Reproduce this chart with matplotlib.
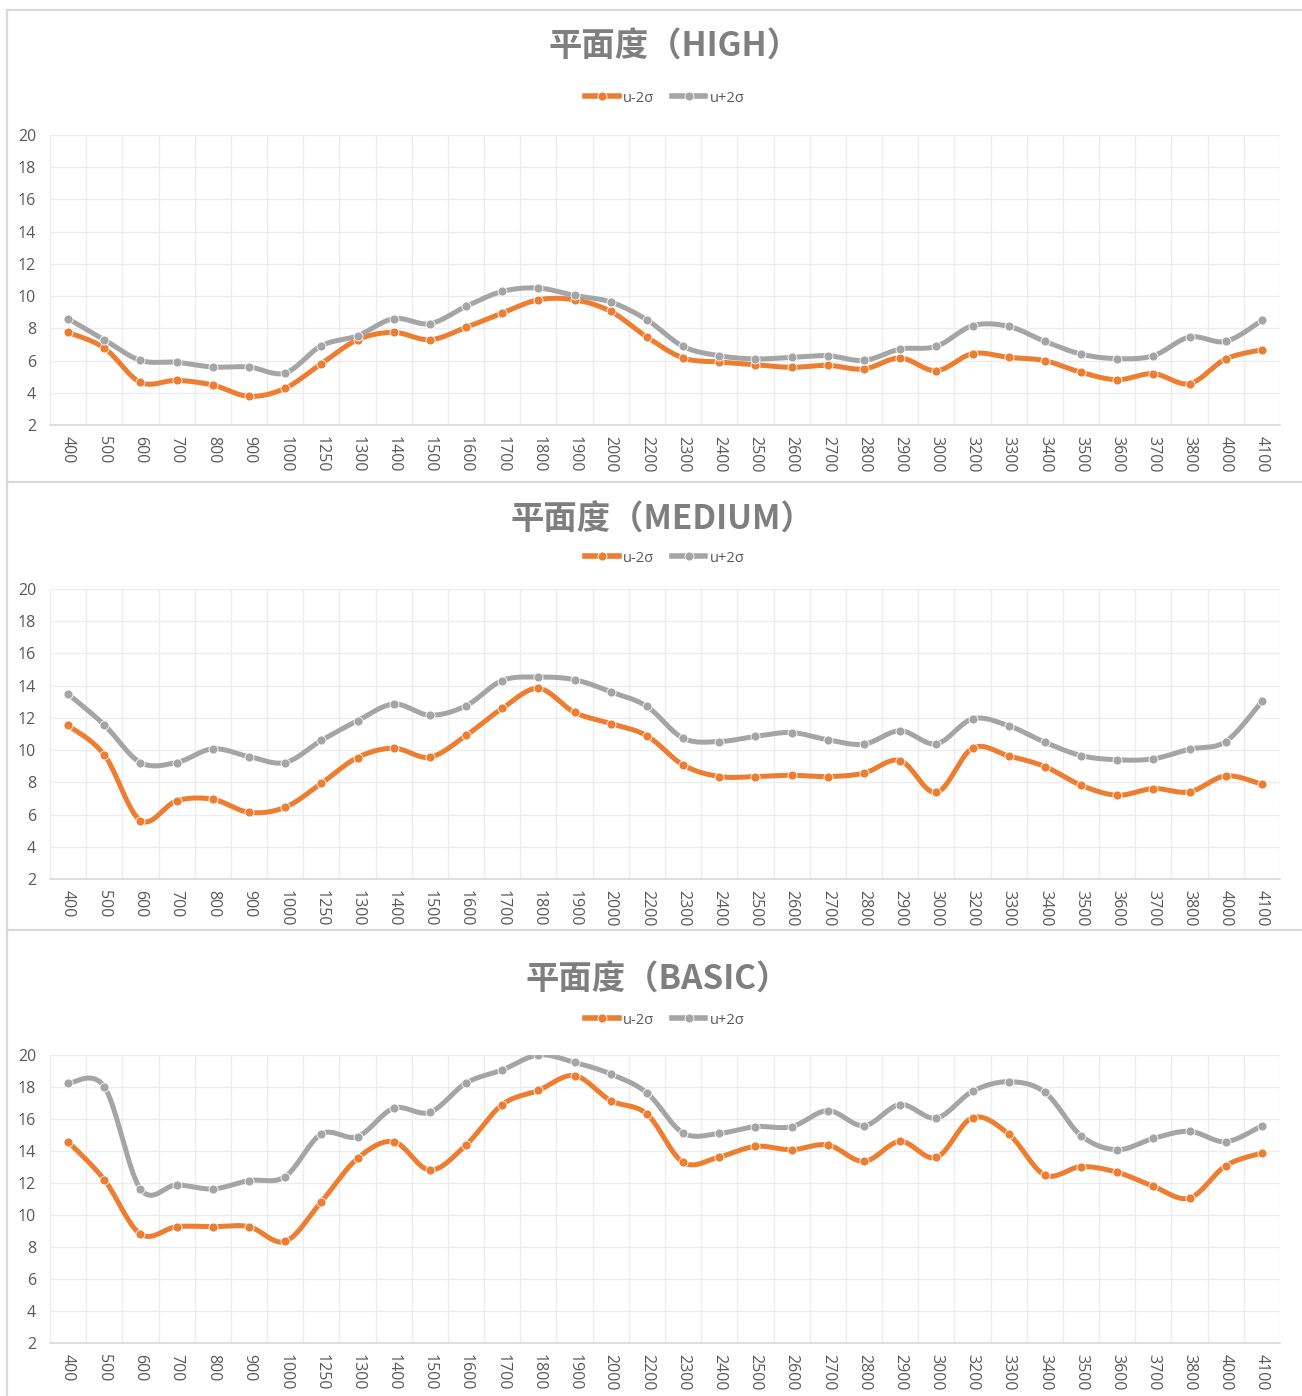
import numpy as np
import matplotlib
matplotlib.use("Agg")
import matplotlib.pyplot as plt
from matplotlib.lines import Line2D

plt.rcParams['font.family'] = ['Open Sans', 'Noto Sans CJK SC', 'DejaVu Sans']

# --- data -------------------------------------------------------------
sizes = ["400", "500", "600", "700", "800", "900", "1000", "1250", "1300", "1400",
         "1500", "1600", "1700", "1800", "1900", "2000", "2200", "2300", "2400", "2500",
         "2600", "2700", "2800", "2900", "3000", "3200", "3300", "3400", "3500", "3600",
         "3700", "3800", "4000", "4100"]

high_low = [7.75, 6.78, 4.65, 4.77, 4.48, 3.78, 4.28, 5.81, 7.29, 7.75,
            7.29, 8.06, 8.95, 9.77, 9.77, 9.05, 7.46, 6.16, 5.91, 5.74,
            5.58, 5.70, 5.48, 6.16, 5.37, 6.43, 6.20, 5.99, 5.27, 4.81,
            5.19, 4.57, 6.10, 6.67]
high_up = [8.60, 7.29, 6.01, 5.89, 5.60, 5.60, 5.23, 6.92, 7.54, 8.60,
           8.29, 9.36, 10.29, 10.50, 10.04, 9.63, 8.53, 6.88, 6.30, 6.10,
           6.20, 6.30, 6.01, 6.71, 6.88, 8.16, 8.12, 7.19, 6.40, 6.12,
           6.30, 7.46, 7.19, 8.49]

medium_low = [11.53, 9.71, 5.63, 6.85, 6.95, 6.14, 6.45, 7.94, 9.54, 10.12,
              9.56, 10.91, 12.59, 13.83, 12.34, 11.65, 10.89, 9.08, 8.36, 8.36,
              8.44, 8.36, 8.57, 9.35, 7.37, 10.12, 9.64, 8.98, 7.82, 7.20,
              7.61, 7.41, 8.40, 7.88]
medium_up = [13.48, 11.57, 9.23, 9.23, 10.08, 9.60, 9.23, 10.60, 11.82, 12.86,
             12.17, 12.75, 14.32, 14.53, 14.37, 13.62, 12.71, 10.74, 10.53, 10.85,
             11.09, 10.64, 10.37, 11.20, 10.39, 11.94, 11.51, 10.49, 9.66, 9.40,
             9.46, 10.06, 10.53, 13.02]

basic_low = [14.58, 12.21, 8.81, 9.27, 9.27, 9.27, 8.35, 10.83, 13.54, 14.58,
             12.81, 14.38, 16.90, 17.79, 18.71, 17.15, 16.31, 13.29, 13.63, 14.29,
             14.08, 14.38, 13.35, 14.60, 13.60, 16.08, 15.06, 12.50, 13.02, 12.67,
             11.79, 11.06, 13.08, 13.88]
basic_up = [18.23, 18.02, 11.63, 11.88, 11.63, 12.15, 12.40, 15.06, 14.90, 16.67,
            16.42, 18.25, 19.06, 20.00, 19.54, 18.81, 17.63, 15.13, 15.10, 15.52,
            15.52, 16.52, 15.58, 16.90, 16.06, 17.73, 18.33, 17.67, 14.96, 14.08,
            14.79, 15.23, 14.58, 15.58]

titles = ["平面度（HIGH）", "平面度（MEDIUM）", "平面度（BASIC）"]
series_names = ["u-2σ", "u+2σ"]

ORANGE = "#ED7D31"
GREY = "#A5A5A5"
TXT = "#595959"

W, H = 1302, 1396


def smooth(y, n=20):
    # excel-like smoothed line (bezier through the points)
    y = np.asarray(y, float)
    x = np.arange(len(y), dtype=float)
    P = np.column_stack([x, y])
    P = np.vstack([P[0], P, P[-1]])
    t = np.linspace(0, 1, n)[:, None]
    out = []
    for i in range(1, len(P) - 2):
        p0, p1, p2, p3 = P[i - 1], P[i], P[i + 1], P[i + 2]
        c1 = p1 + (p2 - p0) / 6
        c2 = p2 - (p3 - p1) / 6
        seg = ((1 - t) ** 3) * p1 + 3 * ((1 - t) ** 2) * t * c1 + 3 * (1 - t) * t ** 2 * c2 + t ** 3 * p2
        out.append(seg if i == 1 else seg[1:])
    out = np.vstack(out)
    return out[:, 0], out[:, 1]


fig = plt.figure(figsize=(W / 100, H / 100), dpi=100)

# frame lines
def fig_line(x0, y0, x1, y1):
    fig.add_artist(Line2D([x0 / W, x1 / W], [1 - y0 / H, 1 - y1 / H],
                          color="#D9D9D9", lw=1.6, transform=fig.transFigure))

fig_line(7, 10, W, 10)
fig_line(7, 10, 7, H)
fig_line(7, 482, W, 482)
fig_line(7, 930, W, 930)

panels = [
    (high_low, high_up, 135, 425, 674, 47, 98),
    (medium_low, medium_up, 589, 879, 662, 520, 558),
    (basic_low, basic_up, 1055, 1343, 658, 980, 1020),
]

for k, (lo, up, top, bot, tx, ty, ly) in enumerate(panels):
    ax = fig.add_axes([50 / W, 1 - bot / H, 1230 / W, (bot - top) / H])
    x = np.arange(len(sizes))
    for vals, col, name in [(lo, ORANGE, series_names[0]), (up, GREY, series_names[1])]:
        sx, sy = smooth(vals)
        ax.plot(sx, sy, color=col, lw=3.6, solid_capstyle="round", zorder=3)
        ax.plot(x, vals, ls="none", marker="o", ms=6.5, color=col,
                mec="white", mew=0.6, zorder=4)
    ax.set_xlim(-0.5, len(sizes) - 0.5)
    ax.set_ylim(2, 20)
    ax.set_yticks(np.arange(2, 21, 2))
    ax.set_xticks(x)
    ax.set_xticklabels(sizes, rotation=-90, fontsize=11.5, color=TXT)
    ax.set_xticks(np.arange(-0.5, len(sizes), 1), minor=True)
    ax.tick_params(axis="y", labelsize=11.5, colors=TXT, length=0, pad=10)
    ax.tick_params(axis="x", which="both", length=0, pad=8)
    ax.grid(True, axis="y", color="#EDEDED", lw=1)
    ax.grid(True, axis="x", which="minor", color="#EDEDED", lw=1)
    ax.grid(False, axis="x", which="major")
    for s in ["left", "right", "top"]:
        ax.spines[s].set_visible(False)
    ax.spines["bottom"].set_color("#D9D9D9")
    ax.spines["bottom"].set_linewidth(1.2)
    ax.set_axisbelow(True)

    fig.text(tx / W, 1 - ty / H, titles[k], ha="center", va="center",
             fontsize=24, fontweight="bold", color="#7F7F7F",
             family=["Noto Sans CJK SC", "DejaVu Sans"])

    handles = [Line2D([], [], color=ORANGE, lw=4, marker="o", ms=6.5, mec="white", mew=0.6),
               Line2D([], [], color=GREY, lw=4, marker="o", ms=6.5, mec="white", mew=0.6)]
    fig.legend(handles, series_names, loc="center", bbox_to_anchor=(665 / W, 1 - ly / H),
               ncol=2, frameon=False, fontsize=10.5, labelcolor=TXT,
               handlelength=2.3, handletextpad=0.3, columnspacing=1.2)

fig.savefig("out.png", dpi=100, facecolor="white")
